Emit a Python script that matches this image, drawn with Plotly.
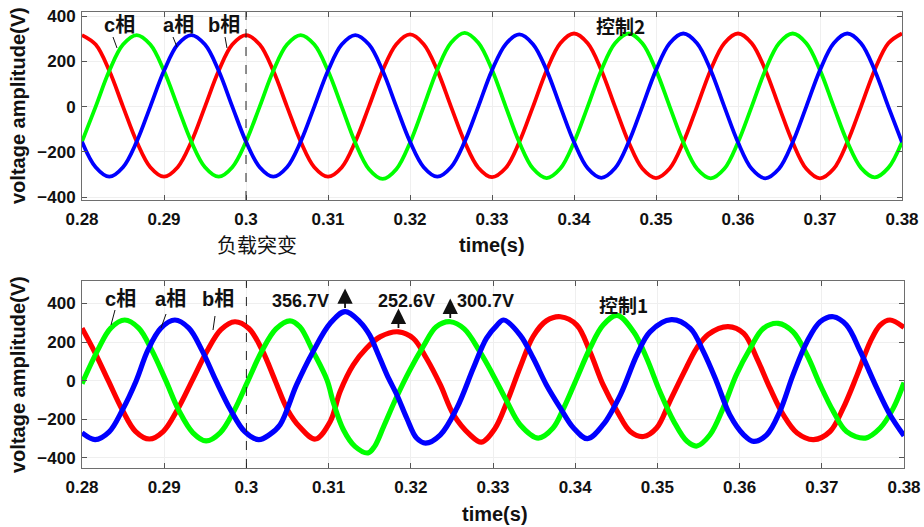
import plotly.graph_objects as go

# ---------------- data: top panel (控制2) ----------------
TOP_T = [0.28000, 0.28167, 0.28333, 0.28500, 0.28667, 0.28833, 0.29000, 0.29167, 0.29333, 0.29500,
         0.29667, 0.29833, 0.30000, 0.30167, 0.30333, 0.30500, 0.30667, 0.30833, 0.31000, 0.31167,
         0.31333, 0.31500, 0.31667, 0.31833, 0.32000, 0.32167, 0.32333, 0.32500, 0.32667, 0.32833,
         0.33000, 0.33167, 0.33333, 0.33500, 0.33667, 0.33833, 0.34000, 0.34167, 0.34333, 0.34500,
         0.34667, 0.34833, 0.35000, 0.35167, 0.35333, 0.35500, 0.35667, 0.35833, 0.36000, 0.36167,
         0.36333, 0.36500, 0.36667, 0.36833, 0.37000, 0.37167, 0.37333, 0.37500, 0.37667, 0.37833,
         0.38000]
TOP_RED = [316, 274, 158, 0, -155, -268, -310, -268, -156, 0, 158, 274,
           316, 274, 158, 0, -155, -268, -310, -269, -155, 1, 160, 276,
           319, 276, 160, 0, -156, -270, -312, -272, -157, 0, 161, 280,
           323, 280, 161, 0, -158, -274, -316, -274, -158, 0, 162, 280,
           323, 280, 162, 0, -158, -275, -317, -275, -158, 0, 162, 280,
           323]
TOP_BLUE = [-155, -268, -310, -268, -155, 0, 158, 274, 316, 274, 158, 0,
            -155, -268, -310, -268, -155, 0, 158, 274, 316, 274, 158, 0,
            -155, -268, -310, -268, -155, 0, 160, 276, 319, 276, 160, 0,
            -157, -273, -315, -273, -157, 0, 161, 280, 323, 280, 161, 0,
            -158, -275, -317, -275, -158, 0, 161, 280, 323, 280, 161, 0,
            -158]
TOP_GREEN = [-155, 0, 158, 274, 316, 274, 158, 0, -155, -268, -310, -268,
             -155, 0, 158, 274, 316, 274, 158, 0, -160, -277, -320, -277,
             -160, 0, 163, 282, 326, 282, 163, 0, -158, -274, -316, -274,
             -158, 0, 161, 280, 323, 280, 161, 0, -158, -275, -317, -275,
             -158, 0, 161, 280, 323, 280, 161, 0, -156, -271, -313, -271,
             -156]

# ---------------- data: bottom panel (控制1) ----------------
BOT_GREEN_T = [0.2800, 0.2819, 0.2835, 0.2852, 0.2869, 0.2885, 0.2902, 0.2918, 0.2935, 0.2951,
               0.2968, 0.2985, 0.3002, 0.3019, 0.3036, 0.3053, 0.3065, 0.3081, 0.3098, 0.3106,
               0.3118, 0.3132, 0.3148, 0.3156, 0.3167, 0.3183, 0.3199, 0.3215, 0.3231, 0.3248,
               0.3265, 0.3284, 0.3300, 0.3317, 0.3333, 0.3355, 0.3373, 0.3386, 0.3402, 0.3418,
               0.3434, 0.3451, 0.3471, 0.3487, 0.3503, 0.3520, 0.3536, 0.3548, 0.3564, 0.3580,
               0.3596, 0.3613, 0.3629, 0.3647, 0.3665, 0.3682, 0.3698, 0.3714, 0.3730, 0.3753,
               0.3771, 0.3787, 0.3800]
BOT_GREEN_V = [-15, 157, 272, 314, 272, 157, 0, -156, -270, -312,
               -270, -156, 0, 155, 268, 310, 279, 152, 4, -116,
               -254, -340, -374, -340, -237, -82, 56, 176, 279, 305,
               268, 150, 30, -108, -228, -297, -245, -142, 13, 168,
               288, 338, 253, 116, -56, -211, -314, -338, -280, -142,
               30, 168, 271, 297, 253, 133, -22, -159, -263, -297,
               -245, -142, -10]

BOT_BLUE_T = [0.2800, 0.2816, 0.2833, 0.2849, 0.2866, 0.2880, 0.2896, 0.2913, 0.2930, 0.2946,
              0.2963, 0.2981, 0.2998, 0.3015, 0.3028, 0.3041, 0.3061, 0.3081, 0.3102, 0.3120,
              0.3138, 0.3150, 0.3159, 0.3171, 0.3183, 0.3195, 0.3207, 0.3218, 0.3236, 0.3256,
              0.3276, 0.3292, 0.3305, 0.3313, 0.3333, 0.3349, 0.3365, 0.3382, 0.3398, 0.3415,
              0.3434, 0.3455, 0.3475, 0.3491, 0.3517, 0.3540, 0.3556, 0.3572, 0.3588, 0.3605,
              0.3617, 0.3633, 0.3649, 0.3665, 0.3682, 0.3698, 0.3714, 0.3730, 0.3747, 0.3767,
              0.3783, 0.3800]
BOT_BLUE_V = [-270, -305, -265, -153, 0, 157, 272, 314, 272, 157,
              0, -153, -264, -305, -280, -228, -22, 150, 297, 357,
              305, 236, 150, 30, -73, -193, -297, -323, -280, -142,
              64, 219, 288, 314, 236, 116, -22, -142, -245, -300,
              -228, -73, 133, 253, 316, 271, 150, -5, -176, -280,
              -314, -280, -159, 30, 202, 305, 331, 288, 150, -39,
              -176, -285]

BOT_RED_T = [0.2800, 0.2815, 0.2832, 0.2849, 0.2865, 0.2882, 0.2899, 0.2916, 0.2934, 0.2952,
             0.2969, 0.2986, 0.3003, 0.3019, 0.3035, 0.3050, 0.3065, 0.3084, 0.3102, 0.3114,
             0.3130, 0.3146, 0.3163, 0.3185, 0.3203, 0.3219, 0.3236, 0.3252, 0.3272, 0.3286,
             0.3302, 0.3317, 0.3333, 0.3349, 0.3365, 0.3382, 0.3402, 0.3418, 0.3434, 0.3451,
             0.3467, 0.3483, 0.3499, 0.3515, 0.3532, 0.3548, 0.3562, 0.3586, 0.3605, 0.3621,
             0.3637, 0.3653, 0.3670, 0.3690, 0.3710, 0.3726, 0.3743, 0.3759, 0.3771, 0.3783,
             0.3800]
BOT_RED_V = [272, 152, 0, -151, -262, -302, -262, -151, 0, 152,
             264, 305, 270, 160, 0, -150, -240, -302, -211, -56,
             82, 168, 228, 253, 219, 116, -22, -176, -280, -318,
             -250, -110, 70, 230, 310, 331, 288, 150, -22, -159,
             -263, -289, -245, -108, 40, 170, 240, 280, 245, 116,
             -39, -176, -271, -305, -263, -142, 30, 202, 288, 314,
             275]

PEAK_T = [0.3120, 0.3185, 0.3248]
PEAK_V = [357, 253, 305]
PEAK_LABEL = ["356.7V", "252.6V", "300.7V"]

X_TICKS = [0.28, 0.29, 0.30, 0.31, 0.32, 0.33, 0.34, 0.35, 0.36, 0.37, 0.38]
X_TICKTEXT = ["0.28", "0.29", "0.3", "0.31", "0.32", "0.33", "0.34", "0.35", "0.36", "0.37", "0.38"]
Y_TICKS = [-400, -200, 0, 200, 400]
EVENT_T = 0.30

# ---------------- figure ----------------
W, H = 924, 527
RED, GREEN, BLUE = "#ff0000", "#00ff00", "#0000ff"
LAT = "Liberation Sans, Arial, sans-serif"
CJK = "Noto Sans CJK SC, sans-serif"

fig = go.Figure()
for xs, ys, c in [(TOP_T, TOP_RED, RED), (TOP_T, TOP_GREEN, GREEN), (TOP_T, TOP_BLUE, BLUE)]:
    fig.add_trace(go.Scatter(x=xs, y=ys, mode="lines", xaxis="x", yaxis="y",
                             line=dict(color=c, width=3.8, shape="spline", smoothing=1.0),
                             showlegend=False, hoverinfo="skip"))
for xs, ys, c in [(BOT_RED_T, BOT_RED_V, RED), (BOT_GREEN_T, BOT_GREEN_V, GREEN), (BOT_BLUE_T, BOT_BLUE_V, BLUE)]:
    fig.add_trace(go.Scatter(x=xs, y=ys, mode="lines", xaxis="x2", yaxis="y2",
                             line=dict(color=c, width=5.2, shape="spline", smoothing=1.0),
                             showlegend=False, hoverinfo="skip"))


def px_x(p):
    return p / W


def px_y(p):
    return 1 - p / H


axis_common = dict(
    automargin=False, ticklabeloverflow="allow",
    showline=True, linecolor="#6e6e6e", linewidth=1, mirror="ticks",
    ticks="inside", ticklen=5, tickcolor="#555555", tickwidth=1,
    showgrid=True, gridcolor="#efefef", gridwidth=1, zeroline=False,
    tickfont=dict(family=LAT, size=17, color="#111111", weight="bold"),
)

fig.update_layout(
    template="none",
    width=W, height=H, margin=dict(l=0, r=0, t=0, b=0, autoexpand=False),
    paper_bgcolor="white", plot_bgcolor="white",
    xaxis=dict(domain=[px_x(82), px_x(902)], range=[0.28, 0.38], anchor="y",
               tickvals=X_TICKS, ticktext=X_TICKTEXT, ticklabelstandoff=4, **axis_common),
    yaxis=dict(domain=[px_y(200), px_y(12)], range=[-413, 418], anchor="x",
               tickvals=Y_TICKS, ticklabelstandoff=2, **axis_common),
    xaxis2=dict(domain=[px_x(82), px_x(904)], range=[0.28, 0.38], anchor="y2",
                tickvals=X_TICKS, ticktext=X_TICKTEXT, ticklabelstandoff=4, **axis_common),
    yaxis2=dict(domain=[px_y(468), px_y(281)], range=[-452, 516], anchor="x2",
                tickvals=Y_TICKS, ticklabelstandoff=2, **axis_common),
)

# event (负载突变) dashed markers
for xr, yref in [("x", "y domain"), ("x2", "y2 domain")]:
    fig.add_shape(type="line", xref=xr, yref=yref,
                  x0=EVENT_T, x1=EVENT_T, y0=0, y1=1,
                  line=dict(color="#222222", width=1, dash="dash"))

ann = []


def text(xp, yp, s, size, font=LAT, bold=True, xanchor="center"):
    ann.append(dict(xref="paper", yref="paper", x=px_x(xp), y=px_y(yp), text=s,
                    showarrow=False, xanchor=xanchor, yanchor="middle",
                    font=dict(family=font, size=size, color="#111111",
                              weight="bold" if bold else "normal")))


def leader(x0, y0, x1, y1):
    fig.add_shape(type="line", xref="paper", yref="paper",
                  x0=px_x(x0), y0=px_y(y0), x1=px_x(x1), y1=px_y(y1),
                  line=dict(color="#111111", width=1))


# y titles
for yc in [106, 375]:
    ann.append(dict(xref="paper", yref="paper", x=px_x(18), y=px_y(yc), text="voltage amplitude(V)",
                    showarrow=False, textangle=-90, xanchor="center", yanchor="middle",
                    font=dict(family=LAT, size=20, color="#111111", weight="bold")))
# x titles
text(492, 245, "time(s)", 20)
text(495, 514, "time(s)", 20)
text(257, 245, "负载突变", 20, font=CJK, bold=False)
text(620, 26, "控制2", 19, font=CJK)
text(623, 304, "控制1", 19, font=CJK)

phase_lbl = "<span style='font-family:Liberation Sans'><b>{}</b></span><span style='font-family:Noto Sans CJK SC'>相</span>"
# top phase labels
text(102, 24, phase_lbl.format("c"), 20, xanchor="left")
text(161, 24, phase_lbl.format("a"), 20, xanchor="left")
text(206, 24, phase_lbl.format("b"), 20, xanchor="left")
leader(113, 37, 117, 48)
leader(173, 37, 177, 47)
leader(225, 37, 227, 48)
# bottom phase labels
text(103, 297, phase_lbl.format("c"), 20, xanchor="left")
text(153, 297, phase_lbl.format("a"), 20, xanchor="left")
text(200, 297, phase_lbl.format("b"), 20, xanchor="left")
leader(115, 310, 111, 325)
leader(166, 314, 161, 328)
leader(215, 316, 213, 330)

# peak arrows and values
label_pos = [(331, "right"), (406, "center"), (455, "left")]
for t, v, s, (lx, anc) in zip(PEAK_T, PEAK_V, PEAK_LABEL, label_pos):
    ann.append(dict(xref="x2", yref="y2", x=t, y=v + 120, axref="x2", ayref="y2", ax=t, ay=v + 12,
                    text="", showarrow=True, arrowhead=2, arrowsize=1.7, arrowwidth=1.8,
                    arrowcolor="#111111"))
    text(lx, 301, s, 18, xanchor=anc)

fig.update_layout(annotations=ann)
# remove the page's default 8px body margin so the 924x527 figure fills the window
fig.write_html("out.html", config={"displayModeBar": False},
               post_script="document.body.style.margin='0';document.body.style.overflow='hidden';")
